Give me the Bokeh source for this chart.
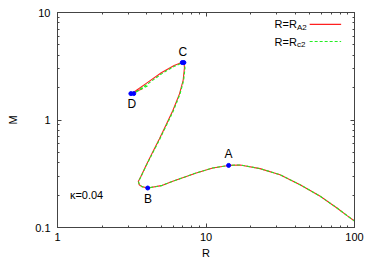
import math
from bokeh.plotting import figure
from bokeh.models import LogAxis, FixedTicker, CustomJSTickFormatter
from bokeh.core.properties import value
from bokeh.embed import file_html
from bokeh.resources import INLINE

# ---- data ----
R_red = [3.74, 3.50, 3.25, 3.15, 3.35, 3.94, 5.00, 6.10, 6.60, 6.98, 7.12, 7.16, 7.02, 6.63, 5.97,
         5.38, 4.85, 4.37, 3.94, 3.65, 3.50, 3.55, 3.70, 4.05, 5.00, 5.97, 8.60, 11.1, 14.2, 17.0, 23.1,
         31.5, 43.0, 58.8, 76.2, 89.1, 100.0]
M_red = [1.95, 1.88, 1.78, 1.755, 1.86, 2.18, 2.75, 3.22, 3.36, 3.42, 3.32, 3.07, 2.35, 1.75, 1.22,
         0.900, 0.665, 0.500, 0.375, 0.300, 0.268, 0.250, 0.240, 0.233, 0.245, 0.269, 0.322, 0.358, 0.378,
         0.382, 0.353, 0.310, 0.250, 0.195, 0.152, 0.129, 0.115]

R_green = [4.04, 3.80, 3.55, 3.30, 3.22, 3.40, 4.00, 5.05, 6.15, 6.66, 7.04, 7.18, 7.22, 7.07, 6.68, 6.02,
           5.42, 4.88, 4.39, 3.95, 3.66, 3.51, 3.56, 3.71, 4.06, 5.00, 5.97, 8.60, 11.1, 14.2, 17.0, 23.1,
           31.5, 43.0, 58.8, 76.2, 89.1, 100.0]
M_green = [2.07, 2.00, 1.90, 1.78, 1.75, 1.84, 2.14, 2.70, 3.17, 3.32, 3.39, 3.28, 3.04, 2.33, 1.74, 1.21,
           0.895, 0.662, 0.498, 0.374, 0.299, 0.268, 0.250, 0.240, 0.233, 0.245, 0.269, 0.322, 0.358, 0.378,
           0.382, 0.353, 0.310, 0.250, 0.195, 0.152, 0.129, 0.115]

dot_R = [14.2, 4.05, 6.92, 7.10, 3.12, 3.26]
dot_M = [0.378, 0.233, 3.42, 3.42, 1.76, 1.76]

pt_names = ["A", "B", "C", "D"]
pt_R = [14.2, 4.07, 6.98, 3.17]
pt_M = [0.378, 0.233, 3.42, 1.76]
pt_dy = [-11, 11, -11, 10]

x_ticks = [1, 10, 100]
x_labels = ["1", "10", "100"]
y_ticks = [0.1, 1, 10]
y_labels = ["0.1", "1", "10"]
XR = (1, 100)
YR = (0.1, 10)

legend_main = ["R=R", "R=R"]
legend_sub = ["A2", "c2"]
kappa_text = "κ=0.04"

FONT = "Liberation Sans"
AXC = "#444444"


def fx(f):
    a, b = math.log10(XR[0]), math.log10(XR[1])
    return 10 ** (a + f * (b - a))


def fy(f):
    a, b = math.log10(YR[0]), math.log10(YR[1])
    return 10 ** (a + f * (b - a))


p = figure(width=374, height=262, x_axis_type="log", y_axis_type="log",
           x_range=XR, y_range=YR, output_backend="svg", toolbar_location=None,
           min_border_left=57, min_border_right=20, min_border_top=12, min_border_bottom=35)
p.grid.visible = False
p.outline_line_color = AXC
p.background_fill_color = "white"
p.border_fill_color = "white"

xt = FixedTicker(ticks=x_ticks, minor_ticks=[m * 10 ** e for e in (0, 1) for m in range(2, 10)])
yt = FixedTicker(ticks=y_ticks, minor_ticks=[m * 10.0 ** e for e in (-1, 0) for m in range(2, 10)])


def make_fmt(ticks, labels):
    return CustomJSTickFormatter(
        args=dict(t=list(ticks), l=list(labels)),
        code="""
        for (let i = 0; i < t.length; i++) {
            if (Math.abs(Math.log10(tick) - Math.log10(t[i])) < 1e-6) return l[i];
        }
        return '';
        """)


def style(ax, ticker, fmt):
    ax.ticker = ticker
    ax.formatter = fmt
    ax.major_tick_in = 4
    ax.major_tick_out = 0
    ax.minor_tick_in = 2
    ax.minor_tick_out = 0
    ax.axis_line_color = AXC
    ax.major_tick_line_color = AXC
    ax.minor_tick_line_color = AXC
    ax.major_label_text_font = FONT
    ax.major_label_text_font_size = "11px"
    ax.major_label_text_color = "black"
    ax.axis_label_text_font = FONT
    ax.axis_label_text_font_size = "11px"
    ax.axis_label_text_font_style = "normal"
    ax.axis_label_text_color = "black"


style(p.xaxis[0], xt, make_fmt(x_ticks, x_labels))
style(p.yaxis[0], yt, make_fmt(y_ticks, y_labels))
p.xaxis[0].axis_label = "R"
p.yaxis[0].axis_label = "M"
p.xaxis[0].major_label_standoff = 5
p.xaxis[0].axis_label_standoff = 3
p.yaxis[0].major_label_standoff = 7
p.yaxis[0].axis_label_standoff = 13

for loc, tk in (("above", xt), ("right", yt)):
    ax = LogAxis()
    style(ax, tk, CustomJSTickFormatter(code="return '';"))
    ax.major_label_standoff = 0
    p.add_layout(ax, loc)

# curves
p.line(R_red, M_red, line_color="#ff2020", line_width=1.1)
p.line(R_green, M_green, line_color="#22ee22", line_width=1.1, line_dash="3 2")

# points
p.scatter(dot_R, dot_M, size=4, marker="circle", fill_color="#0000ff", line_color="#0000ff")
p.text(pt_R, pt_M, text=pt_names, y_offset=pt_dy, text_align="center", text_baseline="middle",
       text_font=value(FONT), text_font_size="12px", text_color="black")

# annotation
p.text([fx(0.0417)], [fy(0.149)], text=[kappa_text], text_align="left", text_baseline="middle",
       text_font=value(FONT), text_font_size="11px", text_color="black")

# legend (manual, for subscripts)
rows = [0.945, 0.865]
lx = fx(0.806)
p.text([lx, lx], [fy(r) for r in rows], text=legend_main, text_align="right", text_baseline="middle",
       text_font=value(FONT), text_font_size="11px", text_color="black")
p.text([lx, lx], [fy(r) for r in rows], text=legend_sub, y_offset=3, text_align="left",
       text_baseline="middle", text_font=value(FONT), text_font_size="8px", text_color="black")
p.segment(x0=[fx(0.849)], x1=[fx(0.955)], y0=[fy(rows[0])], y1=[fy(rows[0])],
          line_color="#ff2020", line_width=1.1)
p.segment(x0=[fx(0.849)], x1=[fx(0.955)], y0=[fy(rows[1])], y1=[fy(rows[1])],
          line_color="#22ee22", line_width=1.1, line_dash="3 2")

open("out.html", "w").write(file_html(p, INLINE))
